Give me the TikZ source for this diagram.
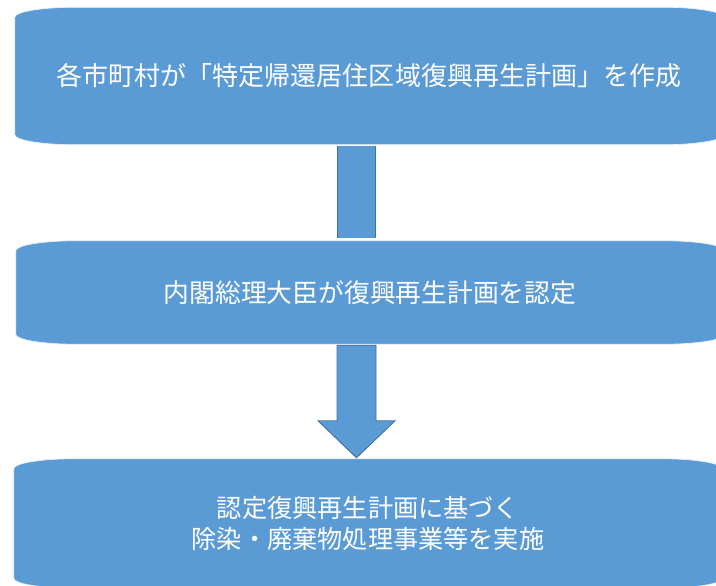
\documentclass[tikz,border=0pt]{standalone}
\usepackage{fontspec}
\newfontfamily\jpfont{Noto Sans CJK JP}
\usepackage{tikz}
\usetikzlibrary{backgrounds}
\usetikzlibrary{calc}
\definecolor{boxblue}{HTML}{5B9BD5}
\definecolor{edgeblue}{HTML}{41719C}
\tikzset{flowbox/.style = {minimum width=21.24cm, align=center, text=white,
                           inner sep=0pt,
                           font=\jpfont\fontsize{21.5pt}{27pt}\selectfont},
         barlink/.style = {line width=0.8pt, draw=edgeblue, double=boxblue,
                           double distance=1.11cm},
         blockarrow/.style = {fill=boxblue, draw=edgeblue, line width=0.8pt,
                              line join=miter}}
% box with flat elliptic corners, drawn round a named node
\newcommand\roundbox[1]{%
  \fill [boxblue, draw=white!85!boxblue, line width=0.6pt]
    ([yshift=-0.3cm]#1.north west)
    arc [start angle=180, end angle=90, x radius=1.8cm, y radius=0.3cm]
    -- ([xshift=-1.8cm]#1.north east)
    arc [start angle=90, end angle=0, x radius=1.8cm, y radius=0.3cm]
    -- ([yshift=0.3cm]#1.south east)
    arc [start angle=0, end angle=-90, x radius=1.8cm, y radius=0.3cm]
    -- ([xshift=1.8cm]#1.south west)
    arc [start angle=-90, end angle=-180, x radius=1.8cm, y radius=0.3cm]
    -- cycle;}

\begin{document}
\begin{tikzpicture}[x=0.03cm, y=0.03cm]
      \useasboundingbox (0, 0) rectangle (716, -586);

      \node [flowbox, minimum height=4.11cm,
             font=\jpfont\fontsize{22.2pt}{28pt}\selectfont] (plan) at (369, -76)
            {各市町村が「特定帰還居住区域復興再生計画」を作成};
      \node [flowbox, minimum height=3.09cm,
             font=\jpfont\fontsize{22pt}{27pt}\selectfont] (approve) at (370, -292.5)
            {内閣総理大臣が復興再生計画を認定};
      \node [flowbox, minimum height=3.87cm] (work) at (368, -523.5)
            {認定復興再生計画に基づく\\除染・廃棄物処理事業等を実施};
      \coordinate (stem) at (356.5, 0);

      \begin{scope}[on background layer]
        \clip (0, 0) rectangle (716, -586);
        \roundbox{plan}
        \roundbox{approve}
        \roundbox{work}
      \end{scope}

      \draw [barlink] ($(plan.south -| stem) + (0, -1)$) -- ($(approve.north -| stem) + (0, 3)$);
      \filldraw [blockarrow] ($(approve.south -| stem) + (-19.5, -1)$)
            -- ($(work.north -| stem) + (-19.5, 38)$)
            -- ($(work.north -| stem) + (-38.5, 38)$)
            -- ($(work.north -| stem) + (0, 1)$)
            -- ($(work.north -| stem) + (38.5, 38)$)
            -- ($(work.north -| stem) + (19.5, 38)$)
            -- ($(approve.south -| stem) + (19.5, -1)$) -- cycle;
    \end{tikzpicture}
\end{document}
